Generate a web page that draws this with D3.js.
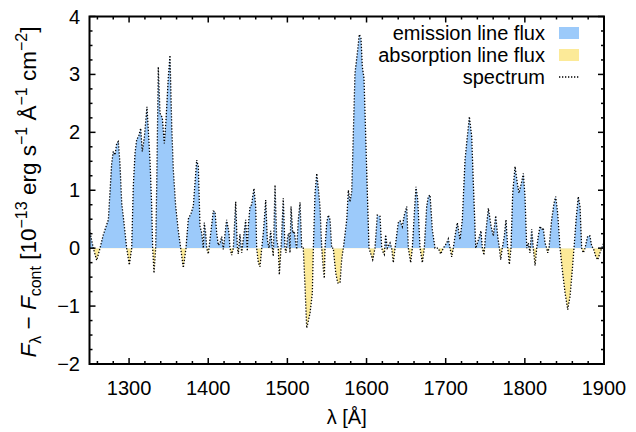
<!DOCTYPE html>
<html>
<head>
<meta charset="utf-8">
<script src="https://cdn.jsdelivr.net/npm/d3@7"></script>
<style>
  body { margin: 0; background: #fff; }
  svg { display: block; font-family: "Liberation Sans", Arial, sans-serif; }
</style>
</head>
<body>
<svg id="chart" width="636" height="432"></svg>
<script>
// wavelength [Angstrom]
const wavelength = [
  1250, 1254.8, 1259.1, 1263.3, 1267.4, 1273.8, 1278.0, 1280.1, 1282.2, 1284.4,
  1286.4, 1288.5, 1290.7, 1294.0, 1297.0, 1300.3, 1303.3, 1305.3, 1307.5, 1309.6,
  1312.5, 1314.7, 1316.7, 1319.2, 1322.6, 1324.3, 1326.4, 1328.6, 1329.8, 1331.5,
  1333.6, 1334.9, 1336.9, 1339.1, 1342.0, 1344.5, 1346.7, 1349.6, 1351.7, 1353.9,
  1355.9, 1358.9, 1362.2, 1365.2, 1368.5, 1371.9, 1374.8, 1378.2, 1381.1, 1385.4,
  1387.5, 1389.6, 1391.8, 1393.8, 1395.0, 1396.8, 1398.1, 1400.1, 1403.5, 1406.4,
  1408.6, 1410.7, 1412.7, 1414.9, 1417.0, 1419.0, 1423.3, 1426.2, 1427.5, 1429.7,
  1431.7, 1434.7, 1436.7, 1438.0, 1440.1, 1442.3, 1444.3, 1447.3, 1449.4, 1450.6,
  1452.8, 1454.9, 1456.2, 1457.8, 1460.0, 1461.2, 1463.3, 1465.4, 1467.6, 1469.6,
  1472.6, 1474.6, 1476.8, 1478.9, 1481.0, 1482.2, 1484.4, 1486.5, 1488.5, 1489.8,
  1491.9, 1492.8, 1494.8, 1497.0, 1498.3, 1500.4, 1502.1, 1503.3, 1504.6, 1506.7,
  1508.7, 1510.5, 1511.8, 1513.8, 1516.0, 1518.1, 1520.1, 1522.3, 1524.4, 1526.4,
  1528.6, 1531.5, 1532.8, 1534.9, 1537.1, 1539.1, 1541.2, 1543.4, 1545.4, 1546.7,
  1547.5, 1549.7, 1551.7, 1553.9, 1556.0, 1558.0, 1561.1, 1563.6, 1566.5, 1568.6,
  1570.7, 1575.0, 1577.0, 1579.1, 1581.3, 1585.4, 1588.8, 1590.9, 1593.0, 1594.7,
  1596.8, 1599.0, 1601.0, 1603.1, 1607.8, 1610.7, 1613.6, 1617.0, 1619.2, 1621.2,
  1622.5, 1624.2, 1626.2, 1629.7, 1631.8, 1633.8, 1636.0, 1640.1, 1642.3, 1645.2,
  1647.7, 1650.8, 1652.8, 1655.8, 1657.8, 1660.4, 1662.5, 1664.7, 1667.6, 1670.5,
  1673.0, 1676.0, 1678.0, 1680.2, 1683.1, 1686.5, 1690.7, 1693.7, 1697.0, 1701.3,
  1703.3, 1705.5, 1707.6, 1709.6, 1711.8, 1714.7, 1718.1, 1721.0, 1724.4, 1729.9,
  1732.9, 1734.9, 1738.0, 1742.1, 1744.6, 1746.3, 1748.4, 1750.6, 1753.9, 1757.3,
  1760.2, 1763.2, 1765.7, 1767.8, 1769.5, 1771.5, 1774.1, 1776.2, 1778.4, 1780.4,
  1782.5, 1784.7, 1787.6, 1790.5, 1792.6, 1796.1, 1798.1, 1800.2, 1802.4, 1804.4,
  1806.5, 1808.7, 1810.7, 1812.9, 1815.0, 1817.0, 1819.2, 1821.3, 1823.3, 1825.5,
  1827.6, 1828.9, 1830.5, 1833.9, 1836.9, 1839.0, 1841.5, 1844.5, 1847.3, 1850.8,
  1854.2, 1857.1, 1860.0, 1862.1, 1864.7, 1867.5, 1869.7, 1871.8, 1873.9, 1876.0,
  1879.4, 1882.3, 1884.5, 1886.5, 1889.5, 1892.1, 1895.0, 1897.1, 1900
];

// F_lambda - F_cont [1e-13 erg/s/A/cm2]
const flux = [
  0.32, 0, -0.21, 0, 0.23, 0.49, 1.46, 1.67, 1.61, 1.81,
  1.84, 1.46, 0.78, 0.38, 0, -0.29, 0, 1.06, 1.64, 1.87,
  1.95, 2.07, 1.67, 1.90, 2.44, 2.04, 1.52, 0.72, 0, -0.43,
  0, 1.06, 3.13, 2.33, 2.25, 1.81, 2.22, 2.96, 3.33, 2.10,
  1.35, 0.72, 0.30, 0, -0.34, 0, 0.50, 0.60, 0.72, 1.52,
  1.41, 0.38, 0.26, 0, 0.44, 0.26, 0, -0.10, 0.30, 0.64,
  0.63, 0.26, 0.05, 0.09, 0.20, -0.02, 0.49, 0.26, 0, -0.12,
  0, 0.80, 0.03, -0.10, 0.24, -0.08, 0.15, 0.49, -0.05, 0.38,
  0.72, 0.75, 0.89, 1.03, 0.72, 0, -0.25, -0.32, 0, 0.26,
  0.83, 0.15, 0, 0.30, 0, -0.14, 1.09, 0.15, 0, -0.46,
  0, 0.21, 0.86, 0, -0.08, 0.21, 0.26, -0.08, 0.72, 0.26,
  0.29, 0.09, -0.02, 0.49, 0.79, 0, 0, -0.66, -1.38, -1.26,
  -1.12, -0.78, 0, 0.95, 1.29, 1.03, 0.72, 0, -0.36, -0.52,
  0, 0.44, 0.57, 0.49, 0, 0, -0.43, -0.60, -0.60, -0.20,
  0, 0.49, 1.00, 0.80, 0.98, 3.02, 3.42, 3.69, 3.62, 3.13,
  2.93, 1.92, 0.95, 0, -0.20, 0, 0.57, 0.55, 0, -0.08,
  -0.11, 0.23, 0, 0.09, 0, -0.25, 0, 0.44, 0.47, 0.37,
  0.57, 0.72, 0, -0.25, 0, 0.60, 1.06, 0.83, 0, -0.25,
  0, 0.72, 0.89, 0.92, 0.32, 0, 0, -0.10, 0, 0.09,
  0.16, 0, -0.15, 0, 0.21, 0.44, 0.15, 0.49, 1.52, 2.27,
  1.92, 1.12, 0, 0.18, 0.30, 0, -0.12, 0.26, 0.69, 0.38,
  0.21, 0.56, 0.21, 0, -0.20, 0, 0.21, 0.49, 0, -0.28,
  0, 0.95, 1.41, 1.12, 0.95, 1.15, 1.29, 0.89, 0, 0.09,
  -0.08, 0.33, 0, -0.30, 0, 0.21, 0.38, 0.32, 0.35, 0.09,
  0, -0.08, 0, 0.49, 0.78, 0.89, 0.60, 0, -0.37, -0.77,
  -1.06, -0.83, -0.37, 0, 0.49, 0.89, 0.72, 0, -0.08, 0,
  0.21, 0.21, 0.03, 0, -0.14, -0.20, -0.08, 0, 0.10
];

const xTicks = [1300, 1400, 1500, 1600, 1700, 1800, 1900];
const yTicks = [-2, -1, 0, 1, 2, 3, 4];
const legendLabels = ["emission line flux", "absorption line flux", "spectrum"];

const svg = d3.select("#chart");
const mLeft = 89.5, mRight = 604, mTop = 16.5, mBottom = 364;
const fontSize = 20;

const x = d3.scaleLinear().domain([1250, 1900]).range([mLeft, mRight]);
const y = d3.scaleLinear().domain([-2, 4]).range([mBottom, mTop]);

const data = wavelength.map((w, i) => ({ w: w, f: flux[i] }));

// clip regions above / below zero
const defs = svg.append("defs");
defs.append("clipPath").attr("id", "above")
  .append("rect")
  .attr("x", mLeft).attr("y", mTop)
  .attr("width", mRight - mLeft).attr("height", y(0) - mTop);
defs.append("clipPath").attr("id", "below")
  .append("rect")
  .attr("x", mLeft).attr("y", y(0))
  .attr("width", mRight - mLeft).attr("height", mBottom - y(0));

const area = d3.area()
  .x(d => x(d.w))
  .y0(y(0))
  .y1(d => y(d.f));

svg.append("path")
  .datum(data)
  .attr("clip-path", "url(#above)")
  .attr("fill", "#9ccafa")
  .attr("d", area);

svg.append("path")
  .datum(data)
  .attr("clip-path", "url(#below)")
  .attr("fill", "#fcea98")
  .attr("d", area);

const line = d3.line()
  .x(d => x(d.w))
  .y(d => y(d.f));

svg.append("path")
  .datum(data)
  .attr("fill", "none")
  .attr("stroke", "#000")
  .attr("stroke-width", 1.3)
  .attr("stroke-dasharray", "1.3,1.7")
  .attr("d", line);

// frame with ticks on all sides (inward)
const xMinor = d3.range(1260, 1900, 20).filter(v => v % 100 !== 0);
const yMinor = d3.range(-2, 4, 0.25).filter(v => Math.abs(v - Math.round(v)) > 1e-6);

const ticks = svg.append("g").attr("stroke", "#000").attr("stroke-width", 1.5);
xTicks.concat(xMinor).forEach(v => {
  const len = xTicks.includes(v) ? 6 : 3;
  ticks.append("line").attr("x1", x(v)).attr("x2", x(v)).attr("y1", mBottom).attr("y2", mBottom - len);
  ticks.append("line").attr("x1", x(v)).attr("x2", x(v)).attr("y1", mTop).attr("y2", mTop + len);
});
yTicks.concat(yMinor).forEach(v => {
  const len = yTicks.includes(v) ? 6 : 3;
  ticks.append("line").attr("x1", mLeft).attr("x2", mLeft + len).attr("y1", y(v)).attr("y2", y(v));
  ticks.append("line").attr("x1", mRight).attr("x2", mRight - len).attr("y1", y(v)).attr("y2", y(v));
});

svg.append("rect")
  .attr("x", mLeft).attr("y", mTop)
  .attr("width", mRight - mLeft).attr("height", mBottom - mTop)
  .attr("fill", "none")
  .attr("stroke", "#000")
  .attr("stroke-width", 2);

// tick labels
svg.append("g").selectAll("text")
  .data(xTicks)
  .enter().append("text")
  .attr("x", d => x(d))
  .attr("y", 395)
  .attr("text-anchor", "middle")
  .attr("font-size", fontSize)
  .text(d => d);

svg.append("g").selectAll("text")
  .data(yTicks)
  .enter().append("text")
  .attr("x", 80)
  .attr("y", d => y(d) + 7)
  .attr("text-anchor", "end")
  .attr("font-size", fontSize)
  .text(d => d < 0 ? "\u2212" + Math.abs(d) : d);

// axis titles
svg.append("text")
  .attr("x", (mLeft + mRight) / 2)
  .attr("y", 424)
  .attr("text-anchor", "middle")
  .attr("font-size", fontSize)
  .text("\u03bb [\u00c5]");

const ylab = svg.append("text")
  .attr("transform", "translate(36,192) rotate(-90)")
  .attr("text-anchor", "middle")
  .attr("font-size", 22.5);
const small = 16;
ylab.append("tspan").attr("font-style", "italic").text("F");
ylab.append("tspan").attr("font-size", small).attr("dy", 5).text("\u03bb");
ylab.append("tspan").attr("dy", -5).text(" \u2212 ");
ylab.append("tspan").attr("font-style", "italic").text("F");
ylab.append("tspan").attr("font-size", small).attr("dy", 5).text("cont");
ylab.append("tspan").attr("dy", -5).text(" [10");
ylab.append("tspan").attr("font-size", small).attr("dy", -9).text("\u221213");
ylab.append("tspan").attr("dy", 9).text(" erg s");
ylab.append("tspan").attr("font-size", small).attr("dy", -9).text("\u22121");
ylab.append("tspan").attr("dy", 9).text(" \u00c5");
ylab.append("tspan").attr("font-size", small).attr("dy", -9).text("\u22121");
ylab.append("tspan").attr("dy", 9).text(" cm");
ylab.append("tspan").attr("font-size", small).attr("dy", -9).text("\u22122");
ylab.append("tspan").attr("dy", 9).text("]");

// legend
const legend = svg.append("g");
const rowY = [33, 55, 77];
legendLabels.forEach((label, i) => {
  legend.append("text")
    .attr("x", 545)
    .attr("y", rowY[i] + 7)
    .attr("text-anchor", "end")
    .attr("font-size", fontSize)
    .text(label);
});
legend.append("rect").attr("x", 559).attr("y", rowY[0] - 6).attr("width", 20).attr("height", 12).attr("fill", "#9ccafa");
legend.append("rect").attr("x", 559).attr("y", rowY[1] - 6).attr("width", 20).attr("height", 12).attr("fill", "#fcea98");
legend.append("line")
  .attr("x1", 559).attr("x2", 579).attr("y1", rowY[2]).attr("y2", rowY[2])
  .attr("stroke", "#000").attr("stroke-width", 1.3).attr("stroke-dasharray", "1.3,1.7");
</script>
</body>
</html>
